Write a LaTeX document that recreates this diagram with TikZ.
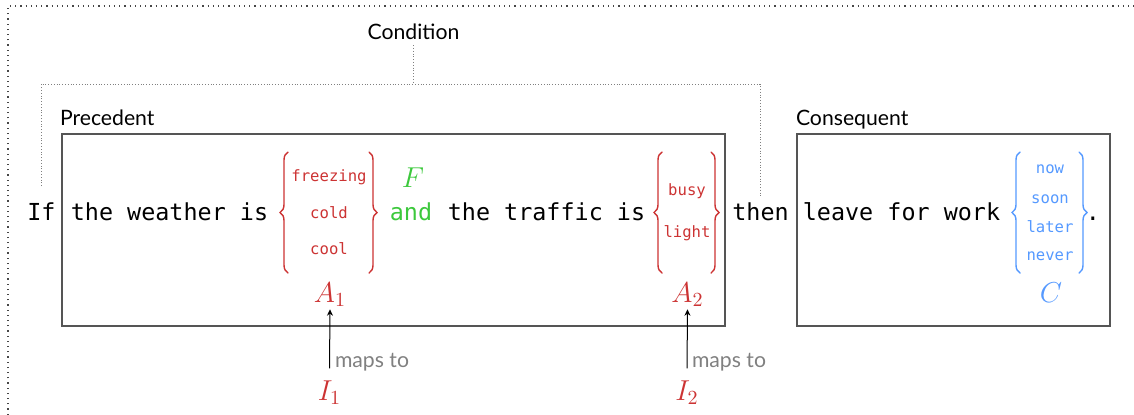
\documentclass[tikz,border=0pt]{standalone}
\usepackage{fontspec}
\setmainfont{Lato}
\newfontfamily\codefont{DejaVu Sans Mono}
\usetikzlibrary{decorations.pathreplacing,arrows.meta}
\definecolor{attr}{RGB}{204,51,51}
\definecolor{conn}{RGB}{60,200,60}
\definecolor{cons}{RGB}{85,153,255}
\definecolor{boxline}{RGB}{85,85,85}
\definecolor{note}{RGB}{128,128,128}
\definecolor{outer}{RGB}{70,70,70}
\begin{document}
\begin{tikzpicture}[x=0.5pt,y=-0.5pt,
  every node/.style={inner sep=0pt,outer sep=0pt},
  word/.style={anchor=base,font=\codefont\fontsize{11.7}{14}\selectfont},
  choice/.style={anchor=base,font=\codefont\fontsize{7.8}{9}\selectfont},
  sym/.style={anchor=base,font=\fontsize{14}{17}\selectfont,inner sep=1.5pt},
  caption/.style={anchor=base west,font=\fontsize{10.6}{13}\selectfont},
  part/.style={draw=boxline,line width=0.7pt,anchor=north west},
  bracer/.style={decorate,decoration={brace,amplitude=4pt},line width=0.7pt,line cap=round},
  mapsto/.style={-{Stealth[length=3.2pt,width=3pt]},line width=0.5pt},
  guide/.style={densely dotted,line width=0.4pt,note}]
\useasboundingbox (0,0) rectangle (1134,414);

% outer frame (open to the right and bottom)
\draw[dotted,line width=0.6pt,outer] (8,420) -- (8,6) -- (1140,6);

% rule parts
\node[part,minimum width=331.5pt,minimum height=96pt] (prec) at (62,134) {};
\node[part,minimum width=156.5pt,minimum height=96pt] (cons) at (797,134) {};
\node[caption] (precl) at (60,125) {Precedent};
\node[caption] (consl) at (796,125) {Consequent};

% condition bracket
\node[anchor=base,font=\fontsize{10.6}{13}\selectfont] (cond) at (413.5,39) {Condition};
\coordinate (bl) at (41,186);
\coordinate (br) at (760,196);
\draw[guide] (bl) -- (bl |- 0,84) -- (br |- 0,84) -- (br);
\draw[guide] ([yshift=-3pt]cond.south) -- (cond.south |- 0,84);

% sentence
\node[word] (wif) at (41.5,220) {If};
\node[word] (w1) at (169.5,220) {the weather is};
\node[word,text=conn] (wand) at (411,220) {and};
\node[word] (w2) at (546.5,220) {the traffic is};
\node[word] (wthen) at (760.5,220) {then};
\node[word] (w3) at (901.5,220) {leave for work};
\node[word] (wdot) at (1093,220) {.};

% first attribute values
\begin{scope}[every node/.append style={text=attr}]
\node[choice] (v11) at (329,181) {freezing};
\node[choice] (v12) at (329,218) {cold};
\node[choice] (v13) at (329,254) {cool};
\node[choice] (v21) at (687,195) {busy};
\node[choice] (v22) at (687,237) {light};
\end{scope}
\draw[bracer,attr] (288,273) -- (288,152);
\draw[bracer,attr] (369,152) -- (369,273);
\draw[bracer,attr] (662,273) -- (662,152);
\draw[bracer,attr] (711,152) -- (711,273);

% consequent values
\begin{scope}[every node/.append style={text=cons}]
\node[choice] (c1) at (1050,173) {now};
\node[choice] (c2) at (1050,203) {soon};
\node[choice] (c3) at (1050,232) {later};
\node[choice] (c4) at (1050,260) {never};
\end{scope}
\draw[bracer,cons] (1020,273) -- (1020,152);
\draw[bracer,cons] (1079,152) -- (1079,273);

% symbols
\node[sym,text=conn] (F) at (413,187) {$F$};
\node[sym,text=attr] (A1) at (330,302) {$A_1$};
\node[sym,text=attr] (A2) at (687.5,302) {$A_2$};
\node[sym,text=cons] (C) at (1051,302) {$C$};
\node[sym,text=attr] (I1) at (329.5,400) {$I_1$};
\node[sym,text=attr] (I2) at (687,400) {$I_2$};

% mappings
\draw[mapsto] ([yshift=4.5pt]I1.north) -- (A1.south);
\draw[mapsto] ([yshift=4.5pt]I2.north) -- (A2.south);
\node[caption,text=note] (m1) at (335,367) {maps to};
\node[caption,text=note] (m2) at (692,367) {maps to};
\end{tikzpicture}
\end{document}
